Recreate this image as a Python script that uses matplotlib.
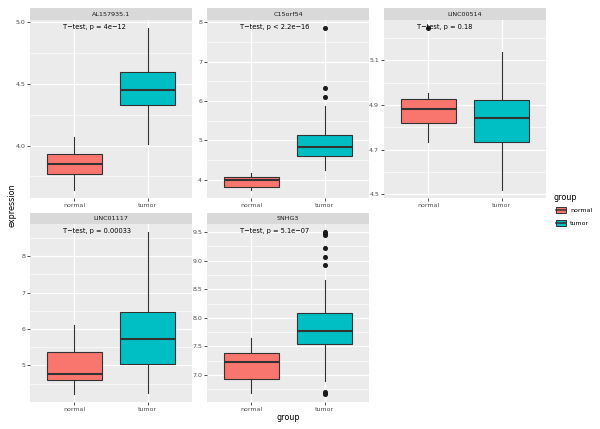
import numpy as np
import matplotlib.pyplot as plt
from matplotlib.ticker import AutoMinorLocator
import matplotlib.transforms as mtransforms

# data
genes = ["AL157935.1", "C15orf54", "LINC00514", "LINC01117", "SNHG3"]
groups = ["normal", "tumor"]
# [lower whisker, Q1, median, Q3, upper whisker]
normal_box = [[3.64, 3.766, 3.853, 3.932, 4.069],
              [3.74, 3.81, 3.99, 4.06, 4.16],
              [4.733, 4.819, 4.884, 4.929, 4.955],
              [4.22, 4.61, 4.77, 5.38, 6.10],
              [6.68, 6.93, 7.23, 7.38, 7.65]]
tumor_box = [[4.014, 4.33, 4.45, 4.597, 4.953],
             [4.25, 4.60, 4.82, 5.14, 5.88],
             [4.519, 4.733, 4.842, 4.924, 5.137],
             [4.24, 5.03, 5.74, 6.48, 8.66],
             [6.89, 7.54, 7.77, 8.08, 8.67]]
normal_out = [[], [], [5.245], [], []]
tumor_out = [[], [6.11, 6.32, 7.85], [], [],
             [8.93, 9.07, 9.23, 9.45, 9.47, 9.50, 6.67, 6.68, 6.70]]
pvals = ["p = 4e\u221212", "p < 2.2e\u221216", "p = 0.18", "p = 0.00033", "p = 5.1e\u221207"]
yticks = [[4.0, 4.5, 5.0], [4, 5, 6, 7, 8], [4.5, 4.7, 4.9, 5.1],
          [5, 6, 7, 8], [7.0, 7.5, 8.0, 8.5, 9.0, 9.5]]
ytick_fmt = ["%.1f", "%d", "%.1f", "%d", "%.1f"]

colors = ["#F8766D", "#00BFC4"]

W, H = 600, 429
fig = plt.figure(figsize=(W / 100, H / 100), dpi=100)

def px_axes(x0, y0, x1, y1):
    # pixel box (top-left origin) -> figure axes
    return fig.add_axes([x0 / W, 1 - y1 / H, (x1 - x0) / W, (y1 - y0) / H])

cols = [(30, 192), (207, 369), (384, 546)]
rows = [(8, 20, 198), (213, 224, 402)]

for i, g in enumerate(genes):
    r, c = divmod(i, 3)
    x0, x1 = cols[c]
    st, y0, y1 = rows[r]
    ax = px_axes(x0, y0, x1, y1)
    sax = px_axes(x0, st, x1, y0)
    sax.set_facecolor("#D9D9D9")
    sax.set_xticks([]); sax.set_yticks([])
    for s in sax.spines.values():
        s.set_visible(False)
    sax.text(0.5, 0.5, g, ha="center", va="center", fontsize=4.6, color="#1A1A1A")

    ax.set_facecolor("#EBEBEB")
    for s in ax.spines.values():
        s.set_visible(False)

    stats = []
    for j, (b, o) in enumerate([(normal_box[i], normal_out[i]), (tumor_box[i], tumor_out[i])]):
        stats.append(dict(whislo=b[0], q1=b[1], med=b[2], q3=b[3], whishi=b[4], fliers=o, label=groups[j]))
    bp = ax.bxp(stats, positions=[1, 2], widths=0.75, patch_artist=True, showcaps=False,
                boxprops=dict(edgecolor="#333333", linewidth=0.8),
                whiskerprops=dict(color="#333333", linewidth=0.8),
                medianprops=dict(color="#333333", linewidth=1.5),
                flierprops=dict(marker="o", markerfacecolor="#1A1A1A", markeredgecolor="#1A1A1A",
                                markersize=2.6))
    for patch, col in zip(bp["boxes"], colors):
        patch.set_facecolor(col)

    allv = normal_box[i] + tumor_box[i] + normal_out[i] + tumor_out[i]
    lo, hi = min(allv), max(allv)
    pad = (hi - lo) * 0.05
    ax.set_ylim(lo - pad, hi + pad)
    ax.set_xlim(0.4, 2.6)
    ax.set_yticks(yticks[i])
    ax.set_yticklabels([ytick_fmt[i] % t for t in yticks[i]])
    ax.yaxis.set_minor_locator(AutoMinorLocator(2))
    ax.set_xticks([1, 2])
    ax.set_xticklabels(groups)
    ax.grid(True, which="major", color="white", linewidth=0.9)
    ax.grid(True, which="minor", axis="y", color="white", linewidth=0.45)
    ax.set_axisbelow(True)
    ax.tick_params(which="major", length=2, width=0.6, color="#333333", labelsize=4.5,
                   labelcolor="#4D4D4D", pad=1.5)
    ax.tick_params(which="minor", length=0)

    trans = mtransforms.blended_transform_factory(ax.transData, ax.transAxes)
    ax.text(0.85, 0.963, "T\u2212test, " + pvals[i], transform=trans, ha="left", va="center",
            fontsize=4.8, color="black")

fig.text(12 / W, 1 - 205 / H, "expression", rotation=90, ha="center", va="center", fontsize=5.8)
fig.text(288 / W, 1 - 417 / H, "group", ha="center", va="center", fontsize=5.8)

# legend
fig.text(553 / W, 1 - 198 / H, "group", ha="left", va="center", fontsize=5.8)
for k, (lab, col) in enumerate(zip(groups, colors)):
    yc = 210 + k * 13
    lax = px_axes(555, yc - 5, 567, yc + 5)
    lax.set_xlim(0, 1); lax.set_ylim(0, 1)
    lax.axis("off")
    lax.add_patch(plt.Rectangle((0.12, 0.2), 0.76, 0.6, facecolor=col, edgecolor="#333333", linewidth=0.7))
    lax.plot([0.12, 0.88], [0.5, 0.5], color="#333333", linewidth=1.1)
    fig.text(570 / W, 1 - yc / H, lab, ha="left", va="center", fontsize=4.5, color="black")

fig.savefig("out.png", dpi=100)
